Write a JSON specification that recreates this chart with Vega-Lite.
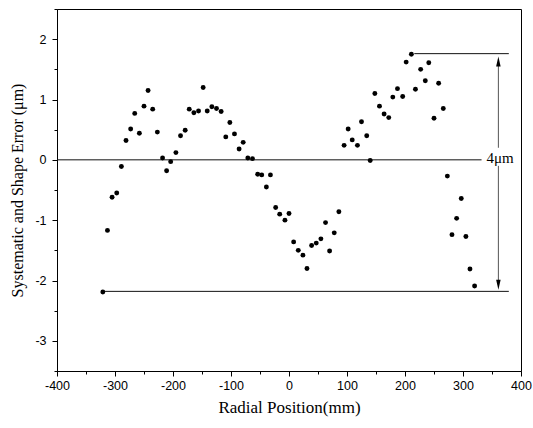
{
  "$schema": "https://vega.github.io/schema/vega-lite/v6.json",
  "width": 464,
  "height": 362,
  "autosize": {"type": "none"},
  "padding": {"left": 57, "top": 9, "right": 12, "bottom": 57},
  "background": "white",
  "config": {
    "view": {"stroke": "black", "strokeWidth": 1},
    "axis": {
      "grid": false,
      "domainColor": "black",
      "tickColor": "black",
      "labelColor": "black",
      "titleColor": "black",
      "labelFont": "Liberation Sans",
      "labelFontSize": 12.5,
      "titleFont": "Liberation Serif, DejaVu Serif, serif",
      "titleFontWeight": "normal",
      "titleFontSize": 17,
      "labelFlush": false
    }
  },
  "datasets": {
    "points": [
      {"x": -321, "y": -2.19}, {"x": -313, "y": -1.17}, {"x": -305, "y": -0.62}, {"x": -297, "y": -0.55},
      {"x": -289, "y": -0.11}, {"x": -281, "y": 0.32}, {"x": -273, "y": 0.51}, {"x": -266, "y": 0.77},
      {"x": -258, "y": 0.44}, {"x": -250, "y": 0.89}, {"x": -243, "y": 1.15}, {"x": -235, "y": 0.84},
      {"x": -227, "y": 0.46}, {"x": -218, "y": 0.03}, {"x": -211, "y": -0.18}, {"x": -204, "y": -0.03},
      {"x": -195, "y": 0.12}, {"x": -187, "y": 0.40}, {"x": -179, "y": 0.49}, {"x": -172, "y": 0.84},
      {"x": -164, "y": 0.78}, {"x": -156, "y": 0.81}, {"x": -148, "y": 1.20}, {"x": -141, "y": 0.81},
      {"x": -133, "y": 0.88}, {"x": -125, "y": 0.85}, {"x": -117, "y": 0.80}, {"x": -109, "y": 0.38},
      {"x": -102, "y": 0.62}, {"x": -94, "y": 0.43}, {"x": -86, "y": 0.18}, {"x": -79, "y": 0.29},
      {"x": -71, "y": 0.03}, {"x": -63, "y": 0.02}, {"x": -54, "y": -0.24}, {"x": -47, "y": -0.25},
      {"x": -39, "y": -0.45}, {"x": -32, "y": -0.25}, {"x": -23, "y": -0.79}, {"x": -16, "y": -0.90},
      {"x": -7, "y": -1.00}, {"x": 0, "y": -0.89}, {"x": 8, "y": -1.36}, {"x": 16, "y": -1.50},
      {"x": 24, "y": -1.58}, {"x": 31, "y": -1.80}, {"x": 39, "y": -1.42}, {"x": 47, "y": -1.38},
      {"x": 55, "y": -1.31}, {"x": 63, "y": -1.04}, {"x": 70, "y": -1.51}, {"x": 78, "y": -1.21},
      {"x": 86, "y": -0.86},
      {"x": 95, "y": 0.24}, {"x": 102, "y": 0.51}, {"x": 109, "y": 0.33}, {"x": 118, "y": 0.24},
      {"x": 125, "y": 0.63}, {"x": 134, "y": 0.40}, {"x": 140, "y": -0.01}, {"x": 148, "y": 1.10},
      {"x": 156, "y": 0.89}, {"x": 164, "y": 0.76}, {"x": 172, "y": 0.70}, {"x": 179, "y": 1.04},
      {"x": 187, "y": 1.18}, {"x": 196, "y": 1.05}, {"x": 202, "y": 1.62}, {"x": 211, "y": 1.75},
      {"x": 218, "y": 1.17}, {"x": 227, "y": 1.50}, {"x": 235, "y": 1.31}, {"x": 241, "y": 1.61},
      {"x": 250, "y": 0.69}, {"x": 258, "y": 1.27}, {"x": 266, "y": 0.85}, {"x": 273, "y": -0.27},
      {"x": 281, "y": -1.24}, {"x": 289, "y": -0.97}, {"x": 297, "y": -0.64}, {"x": 305, "y": -1.27},
      {"x": 312, "y": -1.81}, {"x": 320, "y": -2.09}
    ],
    "lines": [
      {"x": -400, "x2": 332, "y": 0, "y2": 0, "kind": "h"},
      {"x": 216, "x2": 379, "y": 1.76, "y2": 1.76, "kind": "h"},
      {"x": -321, "x2": 379, "y": -2.18, "y2": -2.18, "kind": "h"},
      {"x": 361, "x2": 361, "y": 1.62, "y2": 0.2, "kind": "v"},
      {"x": 361, "x2": 361, "y": -0.1, "y2": -2.06, "kind": "v"}
    ],
    "heads": [
      {"x": 361, "y": 1.63, "dir": "up"},
      {"x": 361, "y": -2.07, "dir": "down"}
    ],
    "labels": [
      {"x": 364, "y": 0.03, "text": "4μm"}
    ]
  },
  "encoding": {
    "x": {
      "field": "x",
      "type": "quantitative",
      "scale": {"domain": [-400, 400], "nice": false, "zero": false},
      "axis": {
        "title": "Radial Position(mm)",
        "titleFont": "Liberation Serif, DejaVu Serif, serif",
        "values": [-400, -350, -300, -250, -200, -150, -100, -50, 0, 50, 100, 150, 200, 250, 300, 350, 400],
        "labelExpr": "datum.value % 100 === 0 ? '' + datum.value : ''",
        "tickSize": {"condition": {"test": "datum.value % 100 === 0", "value": 5}, "value": 3},
        "labelPadding": 3,
        "titlePadding": 8
      }
    },
    "y": {
      "field": "y",
      "type": "quantitative",
      "scale": {"domain": [-3.5, 2.5], "nice": false, "zero": false},
      "axis": {
        "title": "Systematic and Shape Error (μm)",
        "titleFont": "Liberation Serif, DejaVu Serif, serif",
        "titleFontSize": 16,
        "values": [-3.5, -3, -2.5, -2, -1.5, -1, -0.5, 0, 0.5, 1, 1.5, 2, 2.5],
        "labelExpr": "datum.value % 1 === 0 ? '' + datum.value : ''",
        "tickSize": {"condition": {"test": "datum.value % 1 === 0", "value": 5}, "value": 3},
        "labelPadding": 6,
        "titlePadding": 9
      }
    }
  },
  "layer": [
    {
      "data": {"name": "lines"},
      "mark": {"type": "rule", "strokeWidth": 1},
      "encoding": {
        "x2": {"field": "x2"},
        "y2": {"field": "y2"},
        "color": {"field": "kind", "type": "nominal", "scale": {"domain": ["h", "v"], "range": ["#111111", "#555555"]}, "legend": null}
      }
    },
    {
      "data": {"name": "points"},
      "mark": {"type": "point", "filled": true, "shape": "circle", "size": 24, "color": "black", "opacity": 1}
    },
    {
      "data": {"name": "heads"},
      "mark": {"type": "point", "filled": true, "color": "black", "opacity": 1, "size": 100},
      "encoding": {
        "shape": {
          "field": "dir",
          "type": "nominal",
          "scale": {"domain": ["up", "down"], "range": ["M0,-1L0.45,1L-0.45,1Z", "M0,1L0.45,-1L-0.45,-1Z"]},
          "legend": null
        }
      }
    },
    {
      "data": {"name": "labels"},
      "mark": {"type": "text", "font": "Liberation Serif, DejaVu Serif, serif", "fontSize": 15, "color": "black", "align": "center", "baseline": "middle"},
      "encoding": {"text": {"field": "text"}}
    }
  ]
}
